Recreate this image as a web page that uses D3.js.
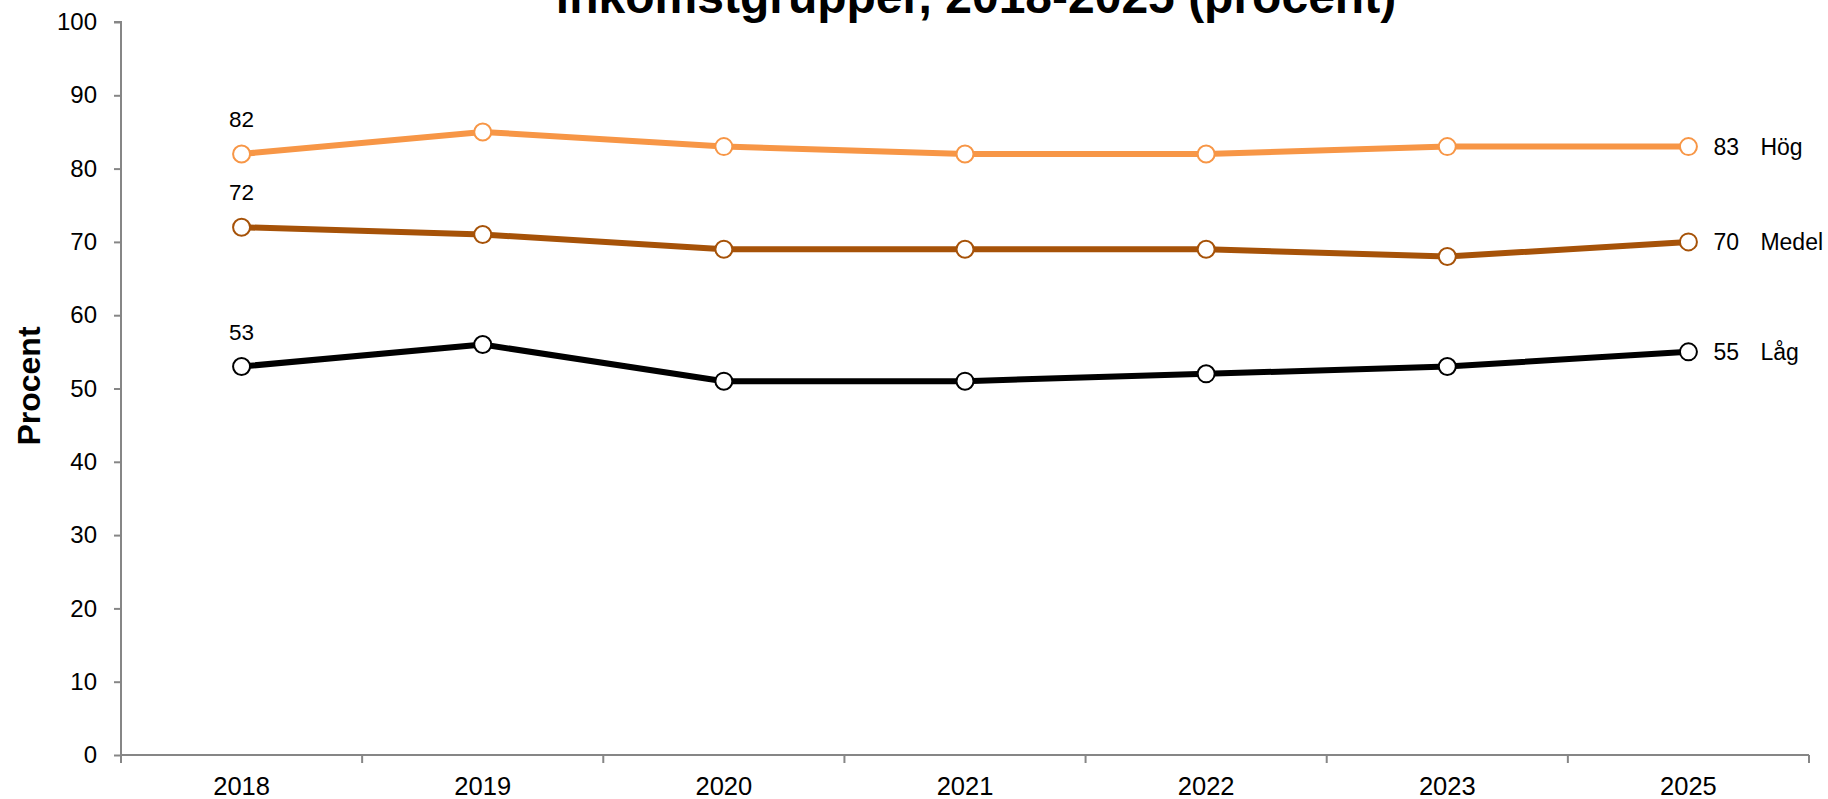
<!DOCTYPE html>
<html>
<head>
<meta charset="utf-8">
<script src="https://cdn.jsdelivr.net/npm/d3@7"></script>
<style>
  body { margin: 0; background: #fff; }
  svg { display: block; font-family: "Liberation Sans", Arial, sans-serif; }
</style>
</head>
<body>
<div id="chart"></div>
<script>
// ── Data ──
const years = ['2018', '2019', '2020', '2021', '2022', '2023', '2025'];
const hog   = [82, 85, 83, 82, 82, 83, 83];
const medel = [72, 71, 69, 69, 69, 68, 70];
const lag   = [53, 56, 51, 51, 52, 53, 55];
const yTicks = [0, 10, 20, 30, 40, 50, 60, 70, 80, 90, 100];

const series = [
  { name: 'Hög',   values: hog,   color: '#F79646' },
  { name: 'Medel', values: medel, color: '#A65208' },
  { name: 'Låg',   values: lag,   color: '#000000' }
];

const W = 1828, H = 799;
const margin = { top: 22, right: 19, bottom: 44, left: 121 };
const width  = W - margin.left - margin.right;
const height = H - margin.top - margin.bottom;
const axisColor = '#868686';

const svg = d3.select('#chart').append('svg')
  .attr('width', W)
  .attr('height', H);

const g = svg.append('g')
  .attr('transform', `translate(${margin.left},${margin.top})`);

const x = d3.scaleBand().domain(years).range([0, width]).padding(0);
const y = d3.scaleLinear().domain([0, 100]).range([height, 0]);

// Title (top line is cut off by the frame, as in the original)
svg.append('text')
  .attr('x', 976)
  .attr('y', 13)
  .attr('text-anchor', 'middle')
  .style('font-size', '48px')
  .style('font-weight', 'bold')
  .attr('fill', '#000')
  .text('inkomstgrupper, 2018-2025 (procent)');

// ── Axes ──
const yAxis = g.append('g')
  .call(d3.axisLeft(y).tickValues(yTicks).tickSize(7).tickPadding(17));
yAxis.selectAll('line, path').attr('stroke', axisColor).attr('stroke-width', 2);
yAxis.select('.domain').attr('d', `M-7,${y(100)}H0V${y(0)}`);
yAxis.selectAll('text')
  .attr('fill', '#000')
  .style('font-size', '24px')
  .style('font-family', '"Liberation Sans", Arial, sans-serif');

const xAxis = g.append('g')
  .attr('transform', `translate(0,${height})`)
  .call(d3.axisBottom(x).tickSize(0).tickPadding(22));
xAxis.select('.domain').attr('stroke', axisColor).attr('stroke-width', 2)
  .attr('d', `M0,0H${width}`);
xAxis.selectAll('text')
  .attr('fill', '#000')
  .style('font-size', '25.5px')
  .style('font-family', '"Liberation Sans", Arial, sans-serif');

// category boundary ticks
const edges = years.map(d => x(d)).concat([x(years[years.length - 1]) + x.bandwidth()]);
xAxis.selectAll('.edge')
  .data(edges)
  .enter()
  .append('line')
  .attr('x1', d => d).attr('x2', d => d)
  .attr('y1', 0).attr('y2', 8)
  .attr('stroke', axisColor)
  .attr('stroke-width', 2);

// Y axis label
svg.append('text')
  .attr('transform', `translate(40,${386}) rotate(-90)`)
  .attr('text-anchor', 'middle')
  .style('font-size', '32px')
  .style('font-weight', 'bold')
  .attr('fill', '#000')
  .text('Procent');

// ── Lines ──
const cx = i => x(years[i]) + x.bandwidth() / 2;
const line = d3.line()
  .x((d, i) => cx(i))
  .y(d => y(d));

series.forEach(s => {
  g.append('path')
    .datum(s.values)
    .attr('fill', 'none')
    .attr('stroke', s.color)
    .attr('stroke-width', 6)
    .attr('stroke-linejoin', 'round')
    .attr('d', line);

  g.selectAll(null)
    .data(s.values)
    .enter()
    .append('circle')
    .attr('cx', (d, i) => cx(i))
    .attr('cy', d => y(d))
    .attr('r', 8.5)
    .attr('fill', '#fff')
    .attr('stroke', s.color)
    .attr('stroke-width', 2);

  // first value above the point
  g.append('text')
    .attr('x', cx(0))
    .attr('y', y(s.values[0]) - 27)
    .attr('text-anchor', 'middle')
    .style('font-size', '22.5px')
    .attr('fill', '#000')
    .text(s.values[0]);

  // last value + series name to the right
  const last = s.values.length - 1;
  g.append('text')
    .attr('x', cx(last) + 25)
    .attr('y', y(s.values[last]) + 8.5)
    .style('font-size', '23px')
    .attr('fill', '#000')
    .text(s.values[last]);
  g.append('text')
    .attr('x', cx(last) + 72)
    .attr('y', y(s.values[last]) + 8.5)
    .style('font-size', '23px')
    .attr('fill', '#000')
    .text(s.name);
});
</script>
</body>
</html>
